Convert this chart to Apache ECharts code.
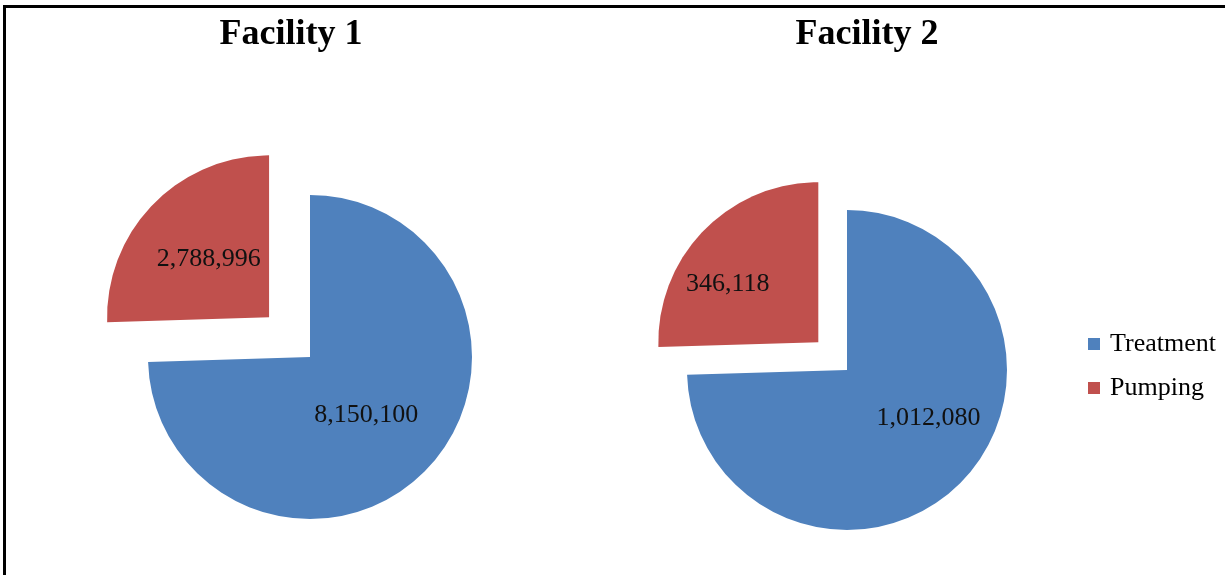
<!DOCTYPE html>
<html>
<head>
<meta charset="utf-8">
<script src="https://cdn.jsdelivr.net/npm/echarts@6/dist/echarts.min.js"></script>
<style>
  html, body { margin: 0; padding: 0; background: #fff; }
  #chart { width: 1225px; height: 575px; }
</style>
</head>
<body>
<div id="chart"></div>
<script>
const categories = ["Treatment", "Pumping"];
const facilityNames = ["Facility 1", "Facility 2"];
const facility1 = [8150100, 2788996];
const facility2 = [1012080, 346118];

const colors = ["#4F81BD", "#C0504D"];
const serif = "'Liberation Serif', 'DejaVu Serif', serif";

const toData = (values) =>
  values.map((v, i) => ({
    name: categories[i],
    value: v,
    selected: categories[i] === "Pumping",
  }));

// small nudges so the inside labels sit like the original
const labelShift = [
  [[-4, 0], [0, 0]],
  [[22, -10], [-31, 0]],
];

const makePie = (idx, values, center, radius, offset) => ({
  name: facilityNames[idx],
  type: "pie",
  center: center,
  radius: radius,
  startAngle: 90,
  clockwise: true,
  selectedMode: "multiple",
  selectedOffset: offset,
  emphasis: { scale: false },
  label: {
    show: true,
    position: "inside",
    color: "#111",
    fontFamily: serif,
    fontSize: 26,
    formatter: (p) => p.value.toLocaleString("en-US"),
  },
  labelLayout: (p) => ({
    dx: labelShift[idx][p.dataIndex][0],
    dy: labelShift[idx][p.dataIndex][1],
  }),
  labelLine: { show: false },
  data: toData(values),
});

const titleStyle = { fontFamily: serif, fontSize: 36, fontWeight: "bold", color: "#000" };

const option = {
  animation: false,
  backgroundColor: "#fff",
  color: colors,
  title: [
    { text: facilityNames[0], left: 286, top: 12, textAlign: "center", textStyle: titleStyle },
    { text: facilityNames[1], left: 862, top: 12, textAlign: "center", textStyle: titleStyle },
  ],
  legend: {
    orient: "vertical",
    left: 1083,
    top: 326,
    icon: "rect",
    itemWidth: 12,
    itemHeight: 12,
    itemGap: 18,
    selectedMode: false,
    textStyle: { fontFamily: serif, fontSize: 26, color: "#000", padding: [0, 0, 0, 5] },
    data: categories,
  },
  graphic: [
    {
      type: "rect",
      shape: { x: 4.5, y: 6.5, width: 1300, height: 700 },
      style: { fill: "none", stroke: "#000", lineWidth: 3 },
      silent: true,
    },
  ],
  series: [
    makePie(0, facility1, [310, 357], 162, 57),
    makePie(1, facility2, [847, 370], 160, 40),
  ],
};

const myChart = echarts.init(document.getElementById("chart"));
myChart.setOption(option);
</script>
</body>
</html>
